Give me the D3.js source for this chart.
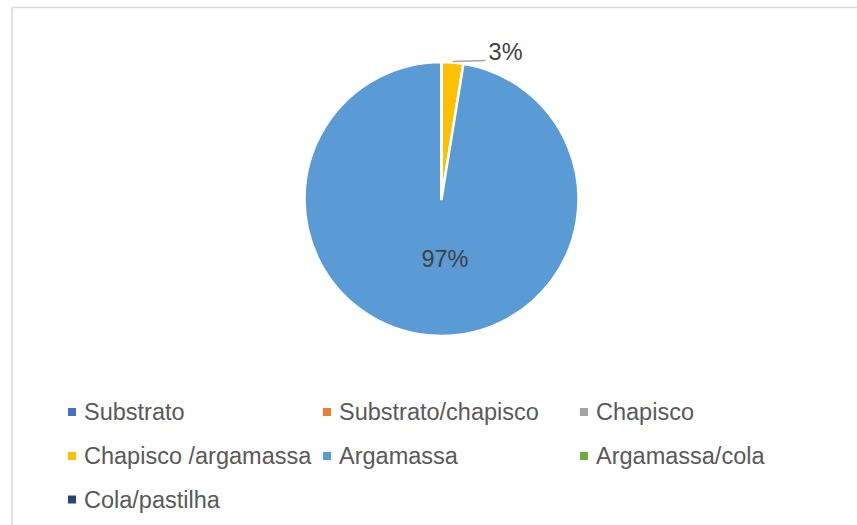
<!DOCTYPE html>
<html>
<head>
<meta charset="utf-8">
<script src="https://cdn.jsdelivr.net/npm/d3@7"></script>
<style>
  html, body { margin: 0; padding: 0; background: #ffffff; }
  svg { display: block; }
</style>
</head>
<body>
<svg id="chart" width="857" height="525"></svg>
<script>
const categories = ["Substrato", "Substrato/chapisco", "Chapisco", "Chapisco /argamassa", "Argamassa", "Argamassa/cola", "Cola/pastilha"];
const values = [0, 0, 0, 1, 38, 0, 0];
const colors = ["#4472C4", "#ED7D31", "#A5A5A5", "#FFC000", "#5B9BD5", "#70AD47", "#264478"];
const pctLabels = ["", "", "", "3%", "97%", "", ""];

const svg = d3.select("#chart");
const font = "'Liberation Sans', Arial, sans-serif";
const fs = 23.5;

// chart border
svg.append("rect")
  .attr("x", 12).attr("y", 7.5)
  .attr("width", 1000).attr("height", 700)
  .attr("fill", "#fff")
  .attr("stroke", "#D9D9D9").attr("stroke-width", 1.5);

const cx = 441.5, cy = 199, r = 137;
const data = categories.map((c, i) => ({ cat: c, value: values[i], color: colors[i], label: pctLabels[i] }));

const pie = d3.pie().value(d => d.value).sort(null);
const arcs = pie(data);
const arc = d3.arc().innerRadius(0).outerRadius(r);

const g = svg.append("g").attr("transform", `translate(${cx},${cy})`);
g.selectAll("path.slice")
  .data(arcs)
  .join("path")
  .attr("class", "slice")
  .attr("d", arc)
  .attr("fill", d => d.data.color)
  .attr("stroke", "#fff")
  .attr("stroke-width", 2.5)
  .attr("stroke-linejoin", "round");

// labels
arcs.forEach(a => {
  if (!a.data.label) return;
  const mid = (a.startAngle + a.endAngle) / 2;
  const frac = a.data.value / d3.sum(values);
  if (frac > 0.5) {
    g.append("text")
      .attr("x", 3.5).attr("y", 68)
      .attr("text-anchor", "middle")
      .attr("font-family", font).attr("font-size", fs)
      .attr("fill", "#404040")
      .text(a.data.label);
  } else {
    const p0 = [Math.sin(mid) * (r + 1), -Math.cos(mid) * (r + 1)];
    const p1 = [p0[0] + 33, p0[1] - 1];
    g.append("path")
      .attr("d", d3.line()([p0, p1]))
      .attr("fill", "none")
      .attr("stroke", "#A6A6A6").attr("stroke-width", 1.5);
    g.append("text")
      .attr("x", p1[0] + 3).attr("y", p1[1] + 0)
      .attr("font-family", font).attr("font-size", fs)
      .attr("fill", "#404040")
      .text(a.data.label);
  }
});

// legend
const colX = [68, 323, 580];
const rowY = [412, 456, 499.5];
const legend = svg.append("g");
data.forEach((d, i) => {
  const col = i % 3, row = Math.floor(i / 3);
  const gi = legend.append("g").attr("transform", `translate(${colX[col]},${rowY[row]})`);
  gi.append("rect")
    .attr("x", 0).attr("y", -4).attr("width", 8).attr("height", 8)
    .attr("fill", d.color);
  gi.append("text")
    .attr("x", 16).attr("y", 0).attr("dy", "0.35em")
    .attr("font-family", font).attr("font-size", fs)
    .attr("fill", "#595959")
    .text(d.cat);
});
</script>
</body>
</html>
